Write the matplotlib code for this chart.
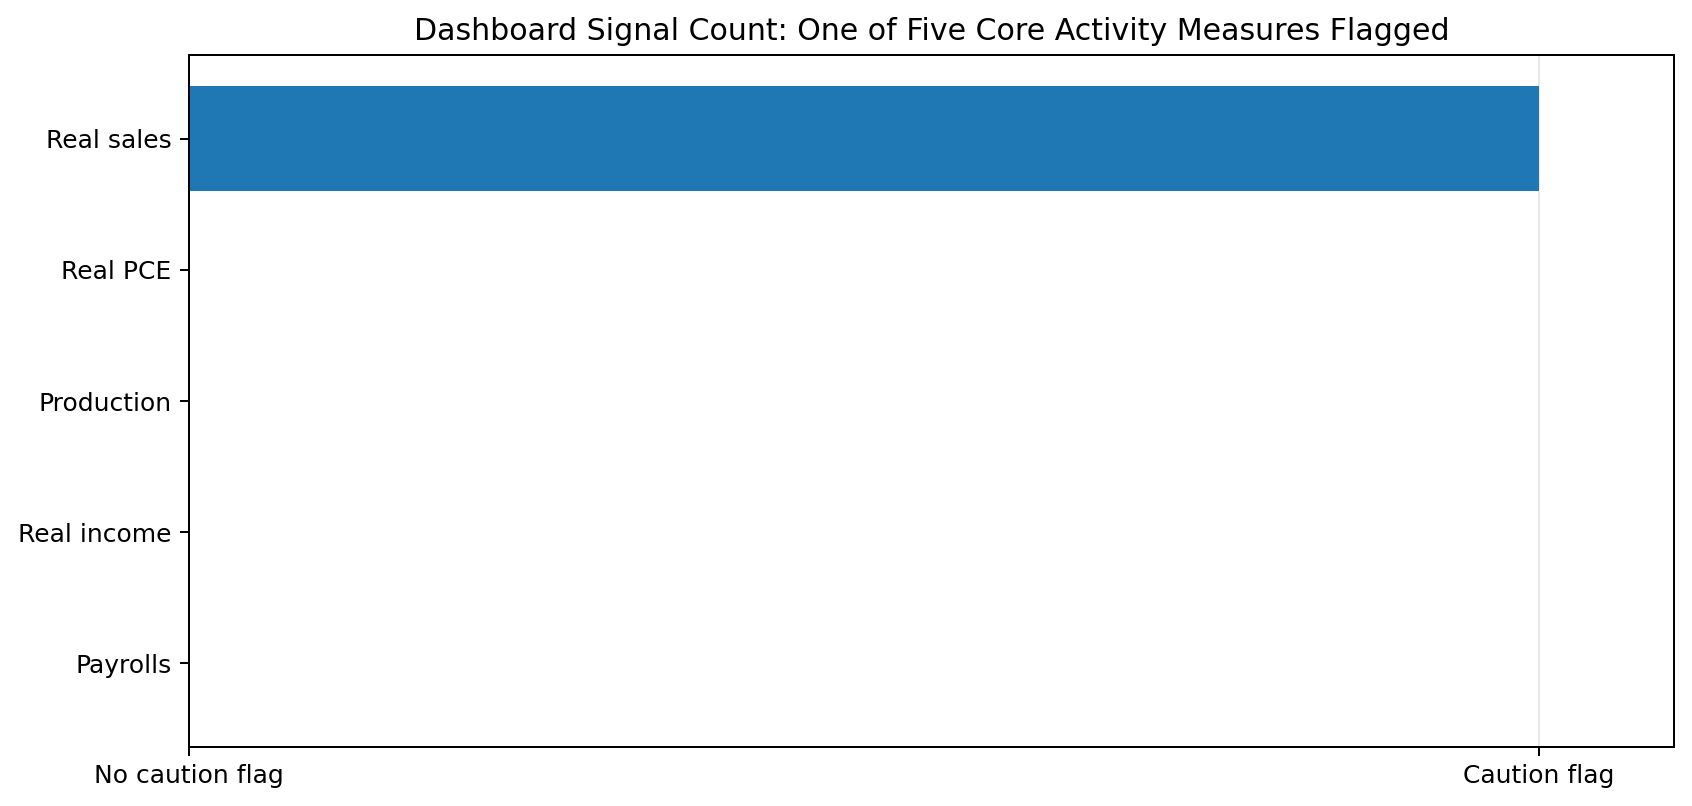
import matplotlib
matplotlib.use("Agg")
import matplotlib.pyplot as plt

categories = ["Payrolls", "Real income", "Production", "Real PCE", "Real sales"]
flags = [0, 0, 0, 0, 1]
tick_values = [0, 1]
tick_labels = ["No caution flag", "Caution flag"]

W, H, DPI = 1692, 806, 180
fig = plt.figure(figsize=(W/DPI, H/DPI), dpi=DPI)
L, R, T, B = 189, 1674, 55, 747
ax = fig.add_axes([L/W, 1-B/H, (R-L)/W, (B-T)/H])
ax.barh(categories, flags, color="#1f77b4", height=0.8)
ax.set_xlim(0, 1.1)
ax.set_xticks(tick_values)
ax.set_xticklabels(tick_labels)
ax.grid(axis="x", alpha=0.3)
ax.set_axisbelow(True)
ax.set_title("Dashboard Signal Count: One of Five Core Activity Measures Flagged", fontsize=12)
fig.savefig("out.png", dpi=DPI)
